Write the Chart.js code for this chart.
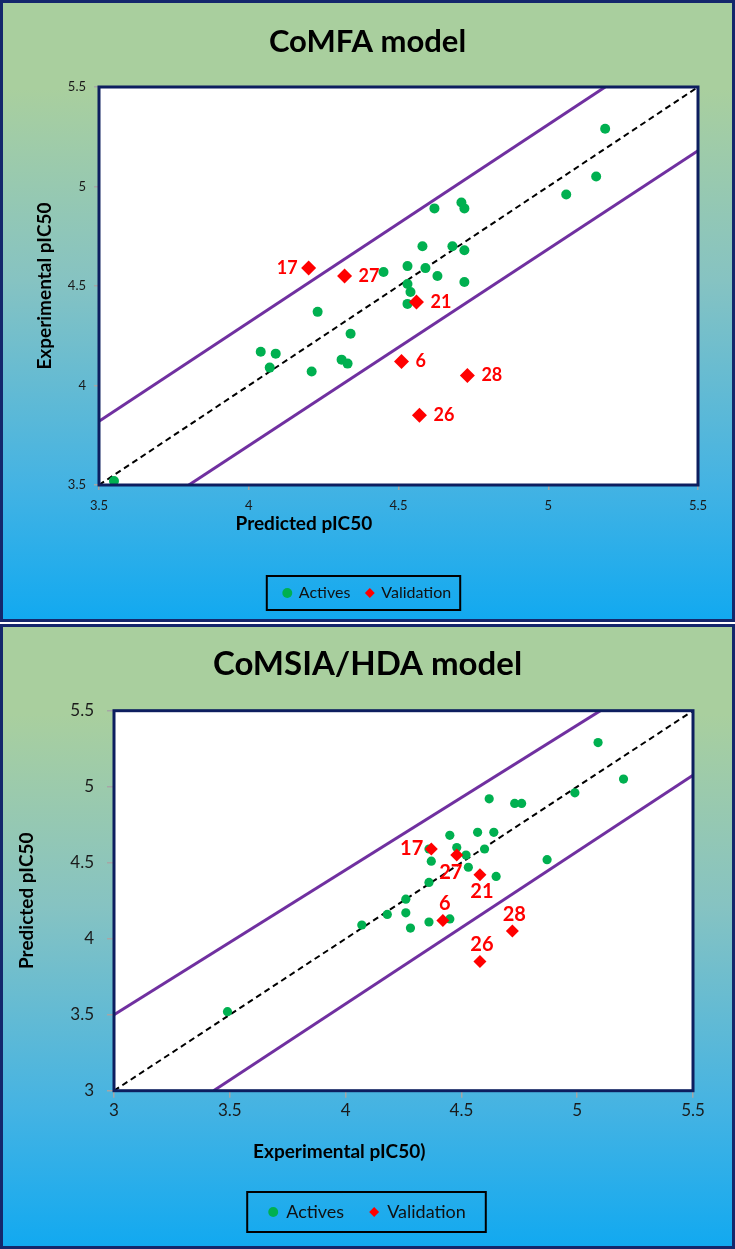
<!DOCTYPE html>
<html><head><meta charset="utf-8">
<script src="https://cdn.jsdelivr.net/npm/chart.js@4.4.0/dist/chart.umd.min.js"></script>
<style>
html,body{margin:0;padding:0;background:#fff;width:735px;height:1249px;overflow:hidden;}
.panel{position:absolute;left:0;width:735px;box-sizing:border-box;border:3px solid #14276c;
 background:linear-gradient(to bottom,#a9cf9e 0%,#a9cf9e 14%,#86c3c2 45%,#44b3e3 78%,#12a9f0 100%);}
#p1{top:0;height:622px;}
#p2{top:624px;height:625px;}
canvas{position:absolute;left:0;}
#c1{top:0;width:735px;height:622px;}
#c2{top:624px;width:735px;height:625px;}
</style></head><body>
<div class="panel" id="p1"></div><div class="panel" id="p2"></div>
<canvas id="c1" width="735" height="622"></canvas>
<canvas id="c2" width="735" height="625"></canvas>
<script>
// ---------- CoMFA model (x = predicted, y = experimental) ----------
const comfaActivesX = [5.19, 5.16, 5.06, 4.62, 4.71, 4.72, 4.58, 4.68, 4.72, 4.45, 4.53, 4.59, 4.63, 4.72, 4.53, 4.54, 4.53, 4.23, 4.34, 4.04, 4.09, 4.07, 4.31, 4.33, 4.21, 3.55];
const comfaActivesY = [5.29, 5.05, 4.96, 4.89, 4.92, 4.89, 4.70, 4.70, 4.68, 4.57, 4.60, 4.59, 4.55, 4.52, 4.51, 4.47, 4.41, 4.37, 4.26, 4.17, 4.16, 4.09, 4.13, 4.11, 4.07, 3.52];
const comfaValIds = ['17', '27', '21', '6', '28', '26'];
const comfaValX = [4.20, 4.32, 4.56, 4.51, 4.73, 4.57];
const comfaValY = [4.59, 4.55, 4.42, 4.12, 4.05, 3.85];
const comfaIdentityX = [3.5, 5.5], comfaIdentityY = [3.5, 5.5];
const comfaUpperX = [3.5, 5.19], comfaUpperY = [3.82, 5.5];
const comfaLowerX = [3.8, 5.5], comfaLowerY = [3.5, 5.18];
const comfaTicks = [3.5, 4, 4.5, 5, 5.5];

// ---------- CoMSIA/HDA model (x = experimental, y = predicted) ----------
const comsiaActivesX = [5.09, 5.20, 4.99, 4.62, 4.73, 4.76, 4.45, 4.57, 4.64, 4.48, 4.52, 4.60, 4.37, 4.53, 4.65, 4.87, 4.36, 4.26, 4.18, 4.26, 4.28, 4.36, 4.45, 4.07, 3.49, 4.36];
const comsiaActivesY = [5.29, 5.05, 4.96, 4.92, 4.89, 4.89, 4.68, 4.70, 4.70, 4.60, 4.55, 4.59, 4.51, 4.47, 4.41, 4.52, 4.37, 4.26, 4.16, 4.17, 4.07, 4.11, 4.13, 4.09, 3.52, 4.59];
const comsiaValIds = ['17', '27', '21', '6', '28', '26'];
const comsiaValX = [4.37, 4.48, 4.58, 4.42, 4.72, 4.58];
const comsiaValY = [4.59, 4.55, 4.42, 4.12, 4.05, 3.85];
const comsiaIdentityX = [3, 5.5], comsiaIdentityY = [3, 5.5];
const comsiaUpperX = [3, 5.1], comsiaUpperY = [3.5, 5.5];
const comsiaLowerX = [3.43, 5.5], comsiaLowerY = [3, 5.075];
const comsiaTicks = [3, 3.5, 4, 4.5, 5, 5.5];

const GREEN = '#00b050', RED = '#ff0000', PURPLE = '#7030a0', NAVY = '#0d1e5f';
Chart.defaults.font.family = 'Lato';

const pts = (xs, ys) => xs.map((x, i) => ({x: x, y: ys[i]}));

function lineDs(xs, ys, color, dash, width) {
  return {type: 'line', label: '', data: pts(xs, ys), borderColor: color, backgroundColor: color,
    borderDash: dash, borderWidth: width, pointRadius: 0, fill: false, showLine: true, tension: 0, order: 5};
}

function scaleCfg(ticksArr, fontSize, tl, pad, fitProp, fitVal) {
  return {
    type: 'linear', min: ticksArr[0], max: ticksArr[ticksArr.length - 1],
    afterBuildTicks: s => { s.ticks = ticksArr.map(v => ({value: v})); },
    ticks: {font: {family: 'Lato', size: fontSize}, color: '#1a1a1a', padding: pad, callback: v => String(v)},
    grid: {display: true, drawOnChartArea: false, drawTicks: true, tickLength: tl, color: '#a6a6a6', lineWidth: 1.5},
    border: {display: false},
    afterFit: s => { s[fitProp] = fitVal; }
  };
}

const deco = {
  id: 'deco',
  beforeDraw(chart) {
    const {ctx, chartArea: a} = chart;
    ctx.save(); ctx.fillStyle = '#ffffff'; ctx.fillRect(a.left, a.top, a.width, a.height); ctx.restore();
  },
  afterDatasetsDraw(chart, args, o) {
    const {ctx, chartArea: a} = chart;
    ctx.save();
    ctx.strokeStyle = NAVY; ctx.lineWidth = 3;
    ctx.strokeRect(a.left, a.top, a.width, a.height);
    const meta = chart.getDatasetMeta(1);
    ctx.font = 'bold ' + o.labelSize + 'px Lato';
    ctx.fillStyle = RED; ctx.textBaseline = 'middle';
    meta.data.forEach((p, i) => {
      const t = o.labels[i], place = o.labelPlace[i];
      if (place === 'left') { ctx.textAlign = 'right'; ctx.fillText(t, p.x - o.gapL, p.y); }
      else if (place === 'right') { ctx.textAlign = 'left'; ctx.fillText(t, p.x + o.gapR, p.y); }
      else if (place === 'above') { ctx.textAlign = 'center'; ctx.fillText(t, p.x + 2, p.y - o.gapV); }
      else if (place === 'belowLeft') { ctx.textAlign = 'center'; ctx.fillText(t, p.x - 6, p.y + o.gapV); }
      else { ctx.textAlign = 'center'; ctx.fillText(t, p.x + 2, p.y + o.gapV); }
    });
    ctx.restore();
  },
  afterDraw(chart, args, o) {
    const {ctx, chartArea: a} = chart;
    ctx.save();
    ctx.font = 'bold ' + o.axisSize + 'px Lato';
    ctx.fillStyle = '#000'; ctx.textAlign = 'center'; ctx.textBaseline = 'middle';
    ctx.fillText(o.xTitle, a.left + o.xTitleFrac * a.width, a.bottom + o.xTitleOff);
    ctx.translate(a.left - o.yTitleOff, (a.top + a.bottom) / 2);
    ctx.rotate(-Math.PI / 2);
    ctx.fillText(o.yTitle, 0, 0);
    ctx.restore();
    const hb = chart.legend.legendHitBoxes;
    if (hb && hb.length >= 2) {
      const f = hb[0], l = hb[hb.length - 1];
      const cy = f.top + f.height / 2;
      const x1 = f.left - o.box[0], x2 = l.left + l.width + o.box[1];
      ctx.save(); ctx.strokeStyle = '#000'; ctx.lineWidth = 2;
      ctx.strokeRect(x1, cy - o.box[2], x2 - x1, 2 * o.box[2]);
      ctx.restore();
    }
  }
};

function makeChart(id, cfg) {
  return new Chart(document.getElementById(id), {
    type: 'scatter',
    data: {datasets: [
      {label: 'Actives', data: pts(cfg.ax, cfg.ay), pointStyle: 'circle', pointRadius: cfg.r, pointHoverRadius: cfg.r,
        backgroundColor: GREEN, borderColor: GREEN, borderWidth: 0, order: 1},
      {label: 'Validation', data: pts(cfg.vx, cfg.vy), pointStyle: 'rectRot', pointRadius: cfg.dr, pointHoverRadius: cfg.dr,
        backgroundColor: RED, borderColor: RED, borderWidth: 0, order: 0},
      lineDs(cfg.ix, cfg.iy, '#000000', [6, 4], 2),
      lineDs(cfg.ux, cfg.uy, PURPLE, [], 3),
      lineDs(cfg.lx, cfg.ly, PURPLE, [], 3)
    ]},
    options: {
      responsive: false, animation: false, events: [], devicePixelRatio: 1,
      layout: {padding: cfg.pad},
      scales: {
        x: scaleCfg(cfg.ticks, cfg.tickSize, cfg.tl, cfg.xpad, 'height', cfg.xh),
        y: scaleCfg(cfg.ticks, cfg.tickSize, cfg.tl, cfg.ypad, 'width', cfg.yw)
      },
      plugins: {
        tooltip: {enabled: false},
        title: {display: true, text: cfg.title, color: '#000',
          font: {family: 'Lato', size: cfg.titleSize, weight: 'bold'}, padding: cfg.titlePad},
        legend: {position: 'bottom',
          labels: {usePointStyle: true, boxWidth: cfg.lbw, boxHeight: 7, padding: cfg.lpad, color: '#111',
            font: {family: 'Lato', size: cfg.lsize},
            filter: it => it.datasetIndex < 2,
            sort: (p, q) => p.datasetIndex - q.datasetIndex}},
        deco: cfg.deco
      }
    },
    plugins: [deco]
  });
}

makeChart('c1', {
  ax: comfaActivesX, ay: comfaActivesY, vx: comfaValX, vy: comfaValY,
  ix: comfaIdentityX, iy: comfaIdentityY, ux: comfaUpperX, uy: comfaUpperY, lx: comfaLowerX, ly: comfaLowerY,
  ticks: comfaTicks, tickSize: 13, tl: 5, xpad: 8, ypad: 8, xh: 84, yw: 62, r: 5, dr: 7.5,
  pad: {left: 37, right: 37, top: 0, bottom: 11},
  title: 'CoMFA model', titleSize: 31, titlePad: {top: 23.4, bottom: 26.4},
  lbw: 7, lpad: 16, lsize: 16,
  deco: {labels: comfaValIds, labelPlace: ['left', 'right', 'right', 'right', 'right', 'right'],
    labelSize: 18, gapL: 11, gapR: 14, gapV: 17,
    xTitle: 'Predicted pIC50', yTitle: 'Experimental pIC50', axisSize: 19,
    xTitleFrac: 0.342, xTitleOff: 39, yTitleOff: 54, box: [17, 9, 17]}
});

makeChart('c2', {
  ax: comsiaActivesX, ay: comsiaActivesY, vx: comsiaValX, vy: comsiaValY,
  ix: comsiaIdentityX, iy: comsiaIdentityY, ux: comsiaUpperX, uy: comsiaUpperY, lx: comsiaLowerX, ly: comsiaLowerY,
  ticks: comsiaTicks, tickSize: 17, tl: 7, xpad: 3, ypad: 13, xh: 86.3, yw: 72, r: 4.6, dr: 6.5,
  pad: {left: 42, right: 42, top: 0, bottom: 18},
  title: 'CoMSIA/HDA model', titleSize: 33, titlePad: {top: 20.2, bottom: 26.9},
  lbw: 8, lpad: 26, lsize: 18,
  deco: {labels: comsiaValIds, labelPlace: ['left', 'belowLeft', 'below', 'above', 'above', 'above'],
    labelSize: 20, gapL: 8, gapR: 14, gapV: 17,
    xTitle: 'Experimental pIC50)', yTitle: 'Predicted pIC50', axisSize: 19,
    xTitleFrac: 0.389, xTitleOff: 61, yTitleOff: 87, box: [22, 20, 20]}
});
</script>
</body></html>
